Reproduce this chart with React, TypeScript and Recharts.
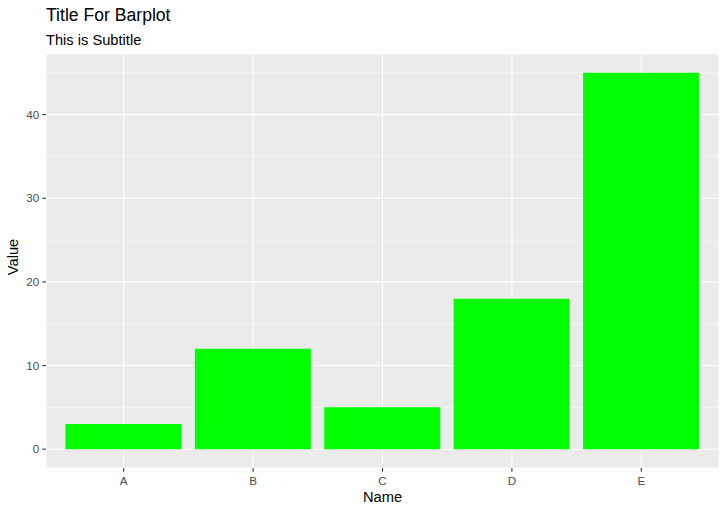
import { BarChart, Bar, XAxis, YAxis, CartesianGrid, Label } from "recharts"

const names = ["A", "B", "C", "D", "E"]
const values = [3, 12, 5, 18, 45]
const yTicks = [0, 10, 20, 30, 40]
const yMinor = [5, 15, 25, 35, 45]

const font = "'Liberation Sans', Arial, sans-serif"

export default function App() {
  const data = names.map((name, i) => ({ name, value: values[i] }))

  return (
    <div style={{ position: "absolute", left: 0, top: 0, width: 727, height: 513, background: "#fff", fontFamily: font }}>
      <div style={{ position: "absolute", left: 46, top: 5, fontSize: 17.6, color: "#000" }}>Title For Barplot</div>
      <div style={{ position: "absolute", left: 46, top: 31.5, fontSize: 14.67, color: "#000" }}>This is Subtitle</div>
      <BarChart
        width={727}
        height={513}
        data={data}
        margin={{ top: 54, right: 8, left: 0, bottom: 0 }}
        barCategoryGap="5%"
      >
        <CartesianGrid fill="#EBEBEB" stroke="#FFFFFF" strokeWidth={1.07} />
        <CartesianGrid fill="none" stroke="#FFFFFF" strokeWidth={0.53} vertical={false} horizontalValues={yMinor} />
        <XAxis
          dataKey="name"
          height={45}
          padding={{ left: 13, right: 13 }}
          axisLine={false}
          tickLine={{ stroke: "#333333", strokeWidth: 1.07 }}
          tickSize={3.7}
          tickMargin={4.5}
          tick={{ fill: "#4D4D4D", fontSize: 11.7, fontFamily: font }}
        >
          <Label
            content={({ viewBox }: any) => (
              <text
                x={viewBox.x + viewBox.width / 2}
                y={viewBox.y + 29}
                textAnchor="middle"
                dominantBaseline="central"
                fontSize={14.67}
                fontFamily={font}
                fill="#000"
              >
                Name
              </text>
            )}
          />
        </XAxis>
        <YAxis
          type="number"
          width={46}
          domain={[-2.25, 47.25]}
          ticks={yTicks}
          allowDataOverflow
          axisLine={false}
          tickLine={{ stroke: "#333333", strokeWidth: 1.07 }}
          tickSize={3.7}
          tickMargin={3}
          tick={{ fill: "#4D4D4D", fontSize: 11.7, fontFamily: font }}
        >
          <Label
            content={({ viewBox }: any) => {
              const cx = viewBox.x + 12.5
              const cy = viewBox.y + viewBox.height / 2 - 4
              return (
                <text
                  x={cx}
                  y={cy}
                  transform={`rotate(-90 ${cx} ${cy})`}
                  textAnchor="middle"
                  dominantBaseline="central"
                  fontSize={14.67}
                  fontFamily={font}
                  fill="#000"
                >
                  Value
                </text>
              )
            }}
          />
        </YAxis>
        <Bar dataKey="value" fill="#00FF00" isAnimationActive={false} />
      </BarChart>
    </div>
  )
}
